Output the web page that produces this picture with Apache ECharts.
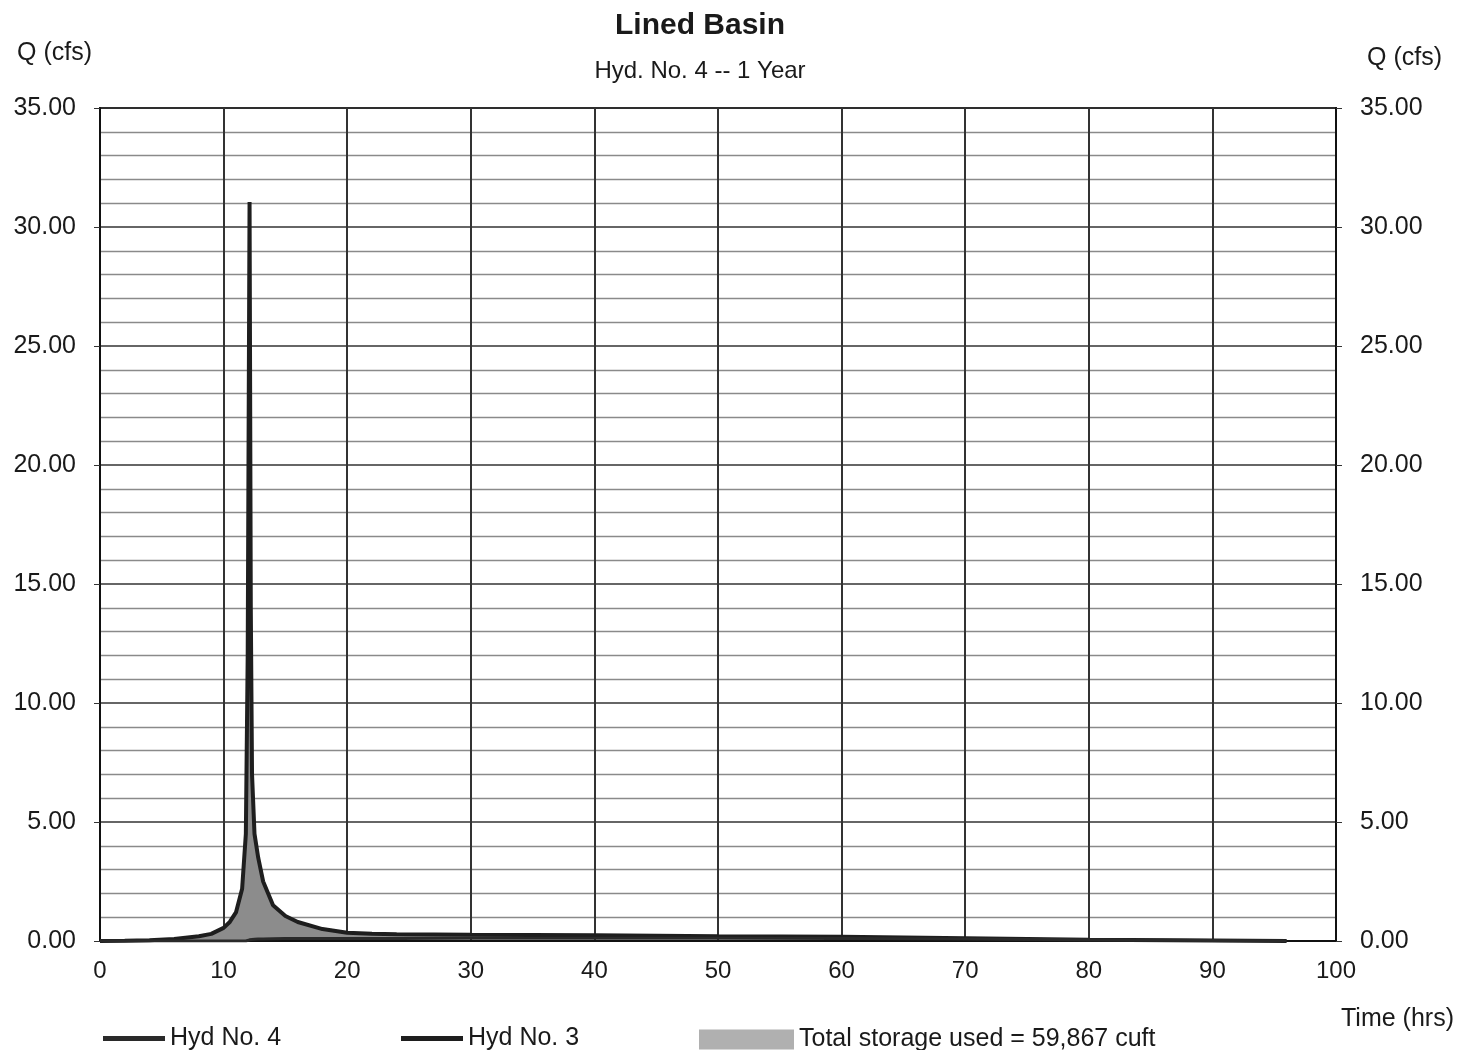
<!DOCTYPE html>
<html>
<head>
<meta charset="utf-8">
<script src="https://cdn.jsdelivr.net/npm/echarts@6/dist/echarts.min.js"></script>
<style>
html,body{margin:0;padding:0;background:#fff;}
#chart{width:1463px;height:1050px;}
</style>
</head>
<body>
<div id="chart"></div>
<script>
// time points (hrs) shared by both hydrographs
var times   = [0, 2, 4, 6, 8, 9, 10, 10.5, 11, 11.5, 11.8, 11.95, 12.1, 12.2, 12.3, 12.5, 12.8, 13.2, 14, 15, 16, 18, 20, 22, 24, 30, 40, 50, 60, 70, 80, 90, 96];
// Hyd No. 3 - inflow (cfs)
var inflow  = [0, 0.01, 0.03, 0.08, 0.2, 0.3, 0.55, 0.8, 1.2, 2.2, 4.5, 12, 31.05, 14, 7, 4.5, 3.5, 2.5, 1.5, 1.05, 0.8, 0.5, 0.35, 0.3, 0.28, 0.26, 0.24, 0.2, 0.18, 0.12, 0.05, 0.02, 0];
// Hyd No. 4 - basin outflow (cfs)
var outflow = [0, 0, 0, 0, 0, 0, 0, 0, 0, 0, 0, 0.02, 0.05, 0.06, 0.06, 0.07, 0.08, 0.08, 0.09, 0.1, 0.1, 0.1, 0.1, 0.1, 0.1, 0.12, 0.12, 0.12, 0.1, 0.08, 0.05, 0.02, 0];
var yTicks = [0, 5, 10, 15, 20, 25, 30, 35];
var xTicks = [0, 10, 20, 30, 40, 50, 60, 70, 80, 90, 100];

function init(){
	var font = 'Liberation Sans, Arial, sans-serif';
	var outData = [], inData = [];
	for (var i = 0; i < times.length; i++) {
		outData.push([times[i], outflow[i]]);
		inData.push([times[i], inflow[i]]);
	}
	var txt = function(size, bold){
		return { fontFamily: font, fontSize: size, fontWeight: bold ? 'bold' : 'normal', color: '#1a1a1a' };
	};
	var option = {
		animation: false,
		title: [
			{ text: 'Lined Basin', left: 695, top: 6, textAlign: 'center', textStyle: txt(30, true) },
			{ text: 'Hyd. No. 4 -- 1 Year', left: 695, top: 54, textAlign: 'center', textStyle: txt(24) },
			{ text: 'Q (cfs)', left: 12, top: 36, textStyle: txt(25) },
			{ text: 'Q (cfs)', left: 1362, top: 41, textStyle: txt(25) },
			{ text: 'Time (hrs)', left: 1336, top: 1002, textStyle: txt(25) }
		],
		legend: [
			{ data: ['Hyd No. 4'], left: 98, top: 1021, itemWidth: 62, itemHeight: 5, icon: 'rect', itemGap: 10,
			  textStyle: txt(25) },
			{ data: ['Hyd No. 3'], left: 396, top: 1021, itemWidth: 62, itemHeight: 5, icon: 'rect',
			  textStyle: txt(25) },
			{ data: ['Total storage used = 59,867 cuft'], left: 694, top: 1022, itemWidth: 95, itemHeight: 20,
			  icon: 'rect', textStyle: txt(25) }
		],
		grid: { left: 100, right: 127, top: 108, bottom: 109, show: true, borderColor: '#222', borderWidth: 2 },
		xAxis: {
			type: 'value', min: 0, max: 100, interval: 10,
			axisLine: { lineStyle: { color: '#111', width: 2 } },
			axisTick: { show: false },
			axisLabel: { fontFamily: font, fontSize: 24, color: '#1a1a1a', margin: 18,
				formatter: function(v){ return xTicks.indexOf(v) >= 0 ? String(v) : ''; } },
			splitLine: { show: true, lineStyle: { color: '#333', width: 2 } }
		},
		yAxis: [
			{
				type: 'value', min: 0, max: 35, interval: 5, position: 'left',
				axisLine: { show: true, lineStyle: { color: '#111', width: 2 } },
				axisTick: { show: true, length: 6, lineStyle: { color: '#333' } },
				axisLabel: { fontFamily: font, fontSize: 25, color: '#1a1a1a', margin: 24,
					formatter: function(v){ return yTicks.indexOf(v) >= 0 ? v.toFixed(2) : ''; } },
				splitLine: { show: true, lineStyle: { color: '#333', width: 1.6 } },
				minorTick: { show: false, splitNumber: 5 },
				minorSplitLine: { show: true, lineStyle: { color: '#8a8a8a', width: 1.3 } }
			},
			{
				type: 'value', min: 0, max: 35, interval: 5, position: 'right',
				axisLine: { show: true, lineStyle: { color: '#111', width: 2 } },
				axisTick: { show: true, length: 6, lineStyle: { color: '#333' } },
				axisLabel: { fontFamily: font, fontSize: 25, color: '#1a1a1a', margin: 24,
					formatter: function(v){ return yTicks.indexOf(v) >= 0 ? v.toFixed(2) : ''; } },
				splitLine: { show: false }
			}
		],
		series: [
			{
				// shaded storage: area between inflow and outflow
				name: 'Total storage used = 59,867 cuft', type: 'custom',
				data: [[0, 0]],
				itemStyle: { color: '#b0b0b0', borderColor: '#777' },
				renderItem: function(params, api){
					var pts = [], i;
					for (i = 0; i < times.length; i++) pts.push(api.coord([times[i], Math.max(inflow[i], outflow[i])]));
					for (i = times.length - 1; i >= 0; i--) pts.push(api.coord([times[i], outflow[i]]));
					return { type: 'polygon', shape: { points: pts }, style: { fill: '#8c8c8c' }, silent: true };
				},
				z: 1
			},
			{
				name: 'Hyd No. 3', type: 'line', data: inData, symbol: 'none',
				itemStyle: { color: '#1e1e1e' },
				lineStyle: { color: '#1e1e1e', width: 4 }, z: 3
			},
			{
				name: 'Hyd No. 4', type: 'line', data: outData, symbol: 'none',
				itemStyle: { color: '#2a2a2a' },
				lineStyle: { color: '#2a2a2a', width: 3 }, z: 3
			}
		]
	};
	var myChart = echarts.init(document.getElementById('chart'));
	myChart.setOption(option);
}
init();
</script>
</body>
</html>
